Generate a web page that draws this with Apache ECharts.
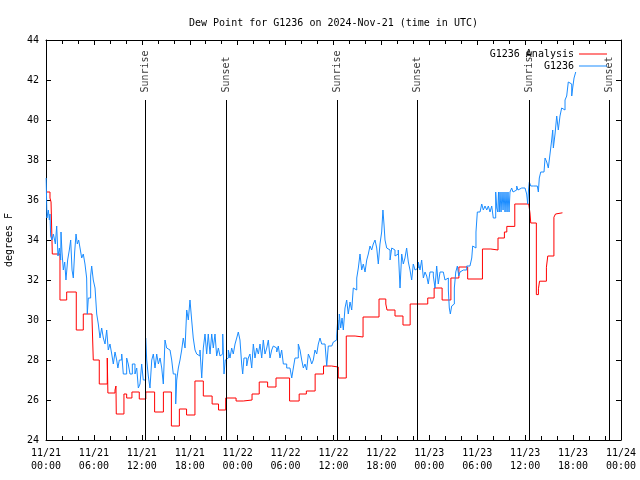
<!DOCTYPE html>
<html>
<head>
<meta charset="utf-8">
<script src="https://cdn.jsdelivr.net/npm/echarts@6/dist/echarts.min.js"></script>
<style>html,body{margin:0;padding:0;background:#fff}#c{width:640px;height:480px}</style>
</head>
<body>
<div id="c"></div>
<script>
// Start of the time axis (UTC) and hours offsets for data
const startTime = "2024-11-21T00:00:00Z";
const spanHours = 72;
const tickHours = 6;
const yMin = 24, yMax = 44, yStep = 2;

const titleText = "Dew Point for G1236 on 2024-Nov-21 (time in UTC)";
const yName = "degrees F";
const seriesNames = ["G1236 Analysis", "G1236"];

// Sun events: hour offset from start, label
const sunHours = [12.46, 22.54, 36.48, 46.49, 60.52, 70.54];
const sunNames = ["Sunrise", "Sunset", "Sunrise", "Sunset", "Sunrise", "Sunset"];
const sunLineTop = 41;

// G1236 Analysis: [hour offset, degrees F]
const analysisData = [
[0.05,36.4],[0.5,36.1],[0.63,35.9],[0.71,34.6],[0.79,33.3],[1.75,31.0],[2.59,31.4],[3.79,29.5],[4.67,30.3],[5.76,30.1],
[5.92,28.0],[6.67,26.8],[7.67,28.1],[7.75,26.35],[8.64,26.5],[8.76,26.7],[8.8,25.3],[9.76,26.3],[10.1,26.1],[10.76,26.4],
[11.68,26.05],[12.5,26.4],[13.6,25.4],[14.7,26.4],[15.7,24.7],[16.7,25.55],[17.6,25.25],[18.65,26.95],[19.7,26.2],[20.8,25.8],
[21.6,25.5],[22.5,26.1],[23.8,25.95],[24.7,26.0],[25.8,26.3],[26.7,26.9],[27.75,26.65],[28.8,27.1],[30.5,25.95],[31.7,26.3],
[32.6,26.45],[33.7,27.3],[34.75,27.7],[35.75,27.65],[36.6,27.1],[37.6,29.2],[38.7,29.15],[39.7,30.15],[40.7,30.15],[41.7,31.05],
[42.55,30.8],[42.7,30.5],[43.7,30.2],[44.7,29.75],[45.6,30.8],[47.8,31.1],[48.6,31.6],[49.6,31.0],[50.7,32.1],[51.7,32.65],
[52.8,32.05],[54.65,33.55],[55.7,33.5],[56.6,34.1],[57.4,34.4],[57.7,34.68],[58.7,35.8],[60.45,35.75],[60.6,35.35],[60.7,34.85],
[61.4,31.27],[61.66,31.56],[61.8,31.94],[62.66,32.64],[62.83,33.2],[63.6,35.14],[63.8,35.3],[63.9,35.36],[64.67,35.36]
];

// G1236 observations: [hour offset, degrees F]
const observedData = [
[0.02,37.1],[0.12,35.1],[0.29,35.5],[0.42,35.0],[0.5,35.3],[0.58,34.2],[0.75,34.0],[0.92,34.3],[1.0,34.4],[1.17,33.8],
[1.34,34.7],[1.5,33.2],[1.67,33.6],[1.84,33.0],[1.88,34.4],[2.0,33.4],[2.17,32.5],[2.34,32.9],[2.5,32.0],[2.71,33.0],
[2.92,33.5],[3.09,34.0],[3.26,32.5],[3.42,32.1],[3.59,33.4],[3.76,34.3],[3.92,33.8],[4.09,34.0],[4.26,33.6],[4.47,33.1],
[4.67,33.3],[4.88,32.8],[5.09,32.1],[5.17,30.3],[5.3,31.1],[5.59,32.2],[5.72,32.7],[5.92,32.0],[6.14,31.6],[6.35,30.3],
[6.55,29.8],[6.76,29.1],[6.97,29.6],[7.18,29.1],[7.39,28.8],[7.6,29.5],[7.8,28.5],[8.01,28.8],[8.23,28.3],[8.43,27.8],
[8.64,28.4],[8.85,28.0],[9.0,27.6],[9.18,28.0],[9.48,28.3],[9.68,27.3],[10.1,28.1],[10.3,27.8],[10.52,27.3],[10.81,27.8],
[11.14,27.3],[11.36,27.6],[11.56,26.6],[11.77,26.8],[11.98,27.8],[12.18,27.0],[12.48,29.1],[12.61,28.0],[12.81,27.2],[13.02,26.6],
[13.24,28.0],[13.44,28.3],[13.65,27.6],[13.86,28.3],[14.07,27.8],[14.28,28.1],[14.49,27.6],[14.69,26.8],[14.9,29.0],[15.11,28.6],
[15.31,28.5],[15.53,28.6],[15.74,28.0],[15.94,27.3],[16.24,25.8],[16.37,27.0],[16.57,27.6],[16.78,28.0],[16.99,28.5],[17.19,29.1],
[17.41,28.6],[17.62,30.5],[17.82,30.0],[18.03,31.0],[18.24,30.0],[18.44,29.1],[18.66,28.5],[18.87,28.3],[19.07,28.2],[19.28,28.5],
[19.5,27.1],[19.7,28.6],[19.91,29.3],[20.12,28.3],[20.32,29.3],[20.54,28.3],[20.75,29.3],[20.95,28.6],[21.16,29.3],[21.37,28.2],
[21.58,28.6],[21.79,28.2],[22.0,28.3],[22.13,29.3],[22.29,27.3],[22.45,28.0],[22.63,28.1],[22.83,28.5],[23.04,28.1],[23.25,28.6],
[23.45,28.3],[23.67,28.8],[23.88,29.1],[24.08,29.4],[24.29,29.0],[24.5,27.8],[24.63,27.3],[24.79,28.1],[25.13,27.7],[25.33,28.1],
[25.54,28.3],[25.76,27.6],[25.96,28.8],[26.17,28.1],[26.38,28.6],[26.59,28.3],[26.8,28.8],[27.01,28.1],[27.21,29.0],[27.42,28.3],
[27.64,28.6],[27.84,29.0],[28.05,28.1],[28.26,28.5],[28.46,28.7],[28.68,28.6],[28.89,28.4],[29.09,28.7],[29.3,28.1],[29.51,28.5],
[29.72,27.8],[29.93,27.8],[30.14,27.6],[30.34,27.6],[30.55,27.5],[30.77,27.1],[30.97,27.6],[31.18,28.1],[31.39,28.1],[31.59,28.8],
[31.81,28.5],[32.02,28.0],[32.22,27.6],[32.43,27.8],[32.64,27.5],[32.85,28.3],[33.06,28.1],[33.27,27.8],[33.47,28.0],[33.68,28.5],
[33.9,28.3],[34.1,28.8],[34.31,29.1],[34.52,28.8],[34.72,28.8],[34.94,28.7],[35.15,27.7],[35.35,28.7],[35.56,28.7],[35.78,28.8],
[35.98,28.9],[36.19,29.0],[36.4,29.2],[36.53,30.0],[36.65,29.5],[36.73,30.3],[36.9,29.6],[37.07,30.1],[37.23,29.5],[37.44,30.6],
[37.65,31.0],[37.85,30.3],[38.07,30.9],[38.28,30.5],[38.48,31.6],[38.69,31.5],[38.91,32.1],[39.11,32.6],[39.32,33.3],[39.53,32.5],
[39.73,32.8],[39.95,32.4],[40.16,33.0],[40.36,33.3],[40.57,33.7],[40.78,33.5],[40.98,33.8],[41.2,34.0],[41.41,33.6],[41.61,32.8],
[41.82,33.8],[42.03,34.4],[42.19,35.5],[42.32,34.8],[42.45,34.0],[42.66,33.6],[42.86,33.5],[43.08,33.0],[43.29,33.6],[43.49,33.5],
[43.7,33.2],[43.91,33.3],[44.11,33.5],[44.33,31.6],[44.54,33.3],[44.74,32.8],[44.95,33.1],[45.16,33.6],[45.37,32.9],[45.58,32.5],
[45.79,32.0],[45.99,32.8],[46.21,32.5],[46.42,32.6],[46.62,32.9],[46.83,32.5],[47.04,33.0],[47.25,32.1],[47.46,32.4],[47.67,32.2],
[47.87,31.8],[48.08,32.4],[48.3,32.4],[48.5,32.2],[48.71,31.6],[48.92,32.7],[49.12,31.8],[49.34,32.4],[49.55,32.4],[49.75,32.4],
[49.96,32.0],[50.17,32.1],[50.38,31.5],[50.5,30.6],[50.63,30.3],[50.8,30.7],[51.0,30.8],[51.13,31.6],[51.31,32.4],[51.51,32.7],
[51.68,32.2],[51.84,32.4],[52.06,32.5],[52.26,32.5],[52.47,32.5],[52.68,32.7],[53.09,32.7],[53.31,33.1],[53.43,33.7],[53.59,33.6],
[53.84,34.4],[54.01,35.4],[54.35,35.4],[54.56,35.8],[54.76,35.5],[54.97,35.7],[55.19,35.5],[55.39,35.7],[55.6,35.4],[55.81,35.7],
[56.01,35.1],[56.31,36.4],[56.44,35.6],[56.57,35.4],[56.66,36.4],[56.76,35.4],[56.85,36.4],[56.98,35.4],[57.1,36.4],[57.23,35.5],
[57.35,36.4],[57.48,35.4],[57.6,36.4],[57.73,35.4],[57.85,36.4],[57.98,35.4],[58.1,36.4],[58.31,36.6],[58.48,36.4],[58.73,36.5],
[58.94,36.7],[59.1,36.5],[59.35,36.6],[59.57,36.7],[59.77,36.6],[59.98,36.6],[60.19,36.3],[60.32,35.8],[60.42,36.5],[60.52,36.9],
[60.7,36.7],[61.02,36.7],[61.52,36.7],[61.65,36.4],[61.77,37.1],[61.95,37.4],[62.36,37.4],[62.49,38.1],[62.7,37.9],[62.9,37.6],
[63.11,38.3],[63.32,39.0],[63.45,39.5],[63.53,38.6],[63.74,39.3],[63.95,40.2],[64.15,39.5],[64.36,40.2],[64.57,40.6],[64.78,40.5],
[64.99,41.0],[65.2,41.2],[65.4,41.9],[65.61,41.8],[65.83,41.2],[65.95,41.6],[66.12,42.1],[66.33,42.4]
];

const HOUR = 3600 * 1000;
const t0 = Date.parse(startTime);
const toTime = h => t0 + h * HOUR;
const toPoints = arr => arr.map(p => [toTime(p[0]), p[1]]);

const font = "'DejaVu Sans Mono', 'Liberation Mono', monospace";
const pad = n => (n < 10 ? '0' : '') + n;
const fmtTime = v => {
  const d = new Date(v);
  return pad(d.getUTCMonth() + 1) + '/' + pad(d.getUTCDate()) + '\n' + pad(d.getUTCHours()) + ':' + pad(d.getUTCMinutes());
};

const xBase = {
  type: 'value', min: t0, max: toTime(spanHours), interval: tickHours * HOUR,
  axisLine: { show: true, lineStyle: { color: '#000', width: 1 } },
  axisTick: { show: true, inside: true, length: 5, lineStyle: { color: '#000' } },
  minorTick: { show: true, splitNumber: 3, length: 4, lineStyle: { color: '#000' } },
  splitLine: { show: false }
};
const yBase = {
  type: 'value', min: yMin, max: yMax, interval: yStep,
  axisLine: { show: true, lineStyle: { color: '#000', width: 1 } },
  axisTick: { show: true, inside: true, length: 5, lineStyle: { color: '#000' } },
  splitLine: { show: false }
};

const chart = echarts.init(document.getElementById('c'), null, { renderer: 'canvas' });
chart.setOption({
  animation: false,
  backgroundColor: '#fff',
  title: {
    text: titleText, left: 184, top: 13,
    textStyle: { fontFamily: font, fontSize: 10, fontWeight: 'normal', color: '#000' }
  },
  legend: {
    orient: 'vertical', right: 28, top: 44, align: 'right',
    itemWidth: 28, itemHeight: 1, itemGap: 2,
    textStyle: { fontFamily: font, fontSize: 10, color: '#000' },
    data: [{ name: seriesNames[0], icon: 'rect' }, { name: seriesNames[1], icon: 'rect' }]
  },
  grid: { left: 46, right: 19, top: 40, bottom: 40, containLabel: false, outerBoundsMode: 'none' },
  xAxis: [
    Object.assign({}, xBase, {
      position: 'bottom',
      axisLabel: { show: true, margin: 7, formatter: fmtTime, fontFamily: font, fontSize: 10, color: '#000', lineHeight: 13 }
    }),
    Object.assign({}, xBase, { position: 'top', axisLabel: { show: false } })
  ],
  yAxis: [
    Object.assign({}, yBase, {
      position: 'left',
      name: yName, nameLocation: 'middle', nameGap: 32, nameRotate: 90,
      nameTextStyle: { fontFamily: font, fontSize: 10, color: '#000' },
      axisLabel: { show: true, margin: 7, fontFamily: font, fontSize: 10, color: '#000' }
    }),
    Object.assign({}, yBase, { position: 'right', axisLabel: { show: false } })
  ],
  series: [
    {
      name: 'sun', type: 'scatter', xAxisIndex: 0, yAxisIndex: 0,
      data: sunHours.map(h => [toTime(h), sunLineTop]),
      symbolSize: 1, itemStyle: { color: 'rgba(0,0,0,0)' }, silent: true, z: 1,
      label: {
        show: true, position: 'top', distance: 7, rotate: 90, align: 'left', verticalAlign: 'middle',
        formatter: p => sunNames[p.dataIndex], fontFamily: font, fontSize: 10, color: '#000'
      },
      markLine: {
        silent: true, symbol: ['none', 'none'], animation: false,
        lineStyle: { color: '#000', width: 1, type: 'solid' },
        label: { show: false },
        data: sunHours.map(h => [{ coord: [toTime(h), yMin] }, { coord: [toTime(h), sunLineTop] }])
      }
    },
    {
      name: seriesNames[0], type: 'line', step: 'end', showSymbol: false, symbol: 'none',
      data: toPoints(analysisData), color: '#ff0000',
      lineStyle: { color: '#ff0000', width: 1 }, z: 2
    },
    {
      name: seriesNames[1], type: 'line', step: 'end', showSymbol: false, symbol: 'none',
      data: toPoints(observedData), color: '#1a8cff',
      lineStyle: { color: '#1a8cff', width: 1 }, z: 3
    }
  ]
});
</script>
</body>
</html>
